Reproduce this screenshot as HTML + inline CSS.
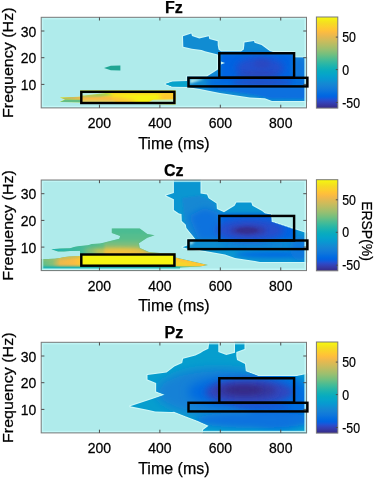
<!DOCTYPE html>
<html><head><meta charset="utf-8"><style>
html,body{margin:0;padding:0;background:#fff;width:375px;height:479px;overflow:hidden}
svg{display:block;will-change:transform;filter:blur(0.35px)}
text{font-family:"Liberation Sans", sans-serif;fill:#000;stroke:#000;stroke-width:0.25px}
</style></head><body>
<svg width="375" height="479" viewBox="0 0 375 479">
<defs><linearGradient id="parula" x1="0" y1="0" x2="0" y2="1"><stop offset="0.0000" stop-color="#f9fb0e"/><stop offset="0.0159" stop-color="#f6f313"/><stop offset="0.0317" stop-color="#f5eb18"/><stop offset="0.0476" stop-color="#f5e41d"/><stop offset="0.0635" stop-color="#f5de21"/><stop offset="0.0794" stop-color="#f7d826"/><stop offset="0.0952" stop-color="#fad32a"/><stop offset="0.1111" stop-color="#fcce2e"/><stop offset="0.1270" stop-color="#fec832"/><stop offset="0.1429" stop-color="#ffc337"/><stop offset="0.1587" stop-color="#fdbe3d"/><stop offset="0.1746" stop-color="#f8bb44"/><stop offset="0.1905" stop-color="#f1b94a"/><stop offset="0.2063" stop-color="#e9b94e"/><stop offset="0.2222" stop-color="#e1b952"/><stop offset="0.2381" stop-color="#d9ba56"/><stop offset="0.2540" stop-color="#d1bb59"/><stop offset="0.2698" stop-color="#c8bc5d"/><stop offset="0.2857" stop-color="#c0bc60"/><stop offset="0.3016" stop-color="#b7bd64"/><stop offset="0.3175" stop-color="#aebe67"/><stop offset="0.3333" stop-color="#a5be6b"/><stop offset="0.3492" stop-color="#9cbf6f"/><stop offset="0.3651" stop-color="#92bf73"/><stop offset="0.3810" stop-color="#87bf77"/><stop offset="0.3968" stop-color="#7cbf7b"/><stop offset="0.4127" stop-color="#71bf80"/><stop offset="0.4286" stop-color="#65be86"/><stop offset="0.4444" stop-color="#59bd8c"/><stop offset="0.4603" stop-color="#4dbc92"/><stop offset="0.4762" stop-color="#42bb98"/><stop offset="0.4921" stop-color="#38b99e"/><stop offset="0.5079" stop-color="#2eb7a4"/><stop offset="0.5238" stop-color="#25b5a9"/><stop offset="0.5397" stop-color="#1db3af"/><stop offset="0.5556" stop-color="#15b1b4"/><stop offset="0.5714" stop-color="#0faeb9"/><stop offset="0.5873" stop-color="#0aacbe"/><stop offset="0.6032" stop-color="#07a9c2"/><stop offset="0.6190" stop-color="#06a7c6"/><stop offset="0.6349" stop-color="#06a4ca"/><stop offset="0.6508" stop-color="#06a0cd"/><stop offset="0.6667" stop-color="#079ccf"/><stop offset="0.6825" stop-color="#0998d1"/><stop offset="0.6984" stop-color="#0c93d2"/><stop offset="0.7143" stop-color="#108ed2"/><stop offset="0.7302" stop-color="#1389d3"/><stop offset="0.7460" stop-color="#1485d4"/><stop offset="0.7619" stop-color="#1481d6"/><stop offset="0.7778" stop-color="#127dd8"/><stop offset="0.7937" stop-color="#1079da"/><stop offset="0.8095" stop-color="#0d75dc"/><stop offset="0.8254" stop-color="#0871de"/><stop offset="0.8413" stop-color="#046de0"/><stop offset="0.8571" stop-color="#0268e1"/><stop offset="0.8730" stop-color="#0363e1"/><stop offset="0.8889" stop-color="#0f5cdd"/><stop offset="0.9048" stop-color="#2053d4"/><stop offset="0.9206" stop-color="#2c4ac7"/><stop offset="0.9365" stop-color="#3243ba"/><stop offset="0.9524" stop-color="#353dad"/><stop offset="0.9683" stop-color="#3637a0"/><stop offset="0.9841" stop-color="#363093"/><stop offset="1.0000" stop-color="#352a87"/></linearGradient></defs>
<rect x="41.20" y="17.30" width="265.30" height="90.60" fill="#afebeb"/>
<g id="heat0"><defs><filter id="bl3" x="-50%" y="-50%" width="200%" height="200%"><feGaussianBlur stdDeviation="3"/></filter><filter id="bl2" x="-50%" y="-50%" width="200%" height="200%"><feGaussianBlur stdDeviation="2"/></filter><filter id="bl1" x="-50%" y="-50%" width="200%" height="200%"><feGaussianBlur stdDeviation="1"/></filter><filter id="bl5" x="-50%" y="-50%" width="200%" height="200%"><feGaussianBlur stdDeviation="5"/></filter><clipPath id="cp0"><polygon points="183.0,36.3 191.3,33.6 192.0,36.0 199.3,38.4 208.7,36.3 209.3,39.0 217.7,41.3 217.7,45.0 218.5,49.5 221.0,51.6 241.0,51.6 243.8,49.5 244.3,45.5 244.5,42.4 254.0,41.0 254.5,42.8 261.5,45.0 270.0,51.3 273.0,52.0 294.0,52.0 295.0,57.5 306.5,57.5 306.5,101.0 272.0,101.0 265.0,98.3 250.0,97.5 240.0,96.0 230.0,94.5 220.0,93.0 210.0,91.0 200.0,89.0 190.0,87.5 187.0,86.8 172.0,86.5 165.5,84.0 172.0,81.7 187.0,81.3 187.0,76.6 207.0,76.5 218.0,69.5 218.0,54.5 205.0,51.3 201.6,50.0 192.0,48.7 183.3,46.7" fill="#000" /></clipPath><clipPath id="cp0y"><polygon points="59.8,97.6 65.0,99.5 59.8,101.9 80.0,102.3 152.0,104.0 175.6,104.4 175.6,90.5 80.0,90.5 80.0,96.7" fill="#000" /></clipPath></defs>
<polygon points="104.0,68.0 110.8,65.8 120.4,65.6 120.4,70.4 110.8,70.2" fill="#1fa593" />
<polygon points="183.0,36.3 191.3,33.6 192.0,36.0 199.3,38.4 208.7,36.3 209.3,39.0 217.7,41.3 217.7,45.0 218.5,49.5 221.0,51.6 241.0,51.6 243.8,49.5 244.3,45.5 244.5,42.4 254.0,41.0 254.5,42.8 261.5,45.0 270.0,51.3 273.0,52.0 294.0,52.0 295.0,57.5 306.5,57.5 306.5,101.0 272.0,101.0 265.0,98.3 250.0,97.5 240.0,96.0 230.0,94.5 220.0,93.0 210.0,91.0 200.0,89.0 190.0,87.5 187.0,86.8 172.0,86.5 165.5,84.0 172.0,81.7 187.0,81.3 187.0,76.6 207.0,76.5 218.0,69.5 218.0,54.5 205.0,51.3 201.6,50.0 192.0,48.7 183.3,46.7" fill="none" stroke="#cdf7f7" stroke-width="2.2" stroke-linejoin="round"/>
<polygon points="183.0,36.3 191.3,33.6 192.0,36.0 199.3,38.4 208.7,36.3 209.3,39.0 217.7,41.3 217.7,45.0 218.5,49.5 221.0,51.6 241.0,51.6 243.8,49.5 244.3,45.5 244.5,42.4 254.0,41.0 254.5,42.8 261.5,45.0 270.0,51.3 273.0,52.0 294.0,52.0 295.0,57.5 306.5,57.5 306.5,101.0 272.0,101.0 265.0,98.3 250.0,97.5 240.0,96.0 230.0,94.5 220.0,93.0 210.0,91.0 200.0,89.0 190.0,87.5 187.0,86.8 172.0,86.5 165.5,84.0 172.0,81.7 187.0,81.3 187.0,76.6 207.0,76.5 218.0,69.5 218.0,54.5 205.0,51.3 201.6,50.0 192.0,48.7 183.3,46.7" fill="#118cd2" />
<g clip-path="url(#cp0)"><polygon points="160.0,80.0 187.0,80.0 187.0,88.0 160.0,88.0" fill="#06a3cb" /><rect x="220" y="53" width="74" height="30" fill="#0364e1" filter="url(#bl2)"/><ellipse cx="260.0" cy="68.0" rx="24.0" ry="11.0" fill="#274dcb" filter="url(#bl3)" opacity="0.90"/><ellipse cx="258.0" cy="75.5" rx="22.0" ry="3.0" fill="#353eaf" filter="url(#bl2)" opacity="0.80"/><ellipse cx="262.0" cy="64.0" rx="8.0" ry="5.0" fill="#3342b7" filter="url(#bl2)" opacity="0.50"/><ellipse cx="300.0" cy="68.0" rx="8.0" ry="12.0" fill="#0d75dc" filter="url(#bl3)"/><rect x="208" y="78" width="100" height="9" fill="#0267e1" filter="url(#bl3)"/><ellipse cx="262.0" cy="82.5" rx="30.0" ry="3.0" fill="#2f46bf" filter="url(#bl2)" opacity="0.80"/><polygon points="205.0,87.5 307.0,87.5 307.0,99.0 270.0,98.8 255.0,95.3 235.0,92.3 215.0,89.6" fill="#0770df" filter="url(#bl1)"/><polygon points="190.0,79.0 204.0,79.0 190.0,83.5" fill="#b4ecec" filter="url(#bl1)"/><polygon points="221.0,61.5 225.0,63.0 221.0,64.5" fill="#c8f2f2" /></g>
<polygon points="59.8,97.6 65.0,99.5 59.8,101.9 80.0,102.3 152.0,104.0 175.6,104.4 175.6,90.5 80.0,90.5 80.0,96.7" fill="#f6f313" />
<g clip-path="url(#cp0y)"><polygon points="80.0,95.5 100.0,95.8 118.0,97.0 135.0,100.5 135.0,103.0 80.0,103.0" fill="#fdbe3e" filter="url(#bl2)"/><polygon points="80.0,96.4 100.0,96.6 112.0,97.5 112.0,100.0 80.0,100.0" fill="#f6ba46" filter="url(#bl1)"/><polygon points="80.0,100.4 100.0,100.7 115.0,101.2 115.0,103.0 80.0,103.0" fill="#c8d890" filter="url(#bl1)" opacity="0.8"/><polygon points="80.0,95.3 106.0,93.2 114.0,94.5 100.0,96.3 80.0,96.4" fill="#6bbf83" filter="url(#bl1)" opacity="0.8"/><polygon points="112.0,92.0 176.0,92.0 176.0,94.2 112.0,94.2" fill="#fad12b" filter="url(#bl1)"/><polygon points="160.0,93.0 176.0,93.0 176.0,102.0 160.0,102.0" fill="#fec733" filter="url(#bl2)"/><polygon points="80.0,91.0 106.0,91.0 106.0,93.0 84.0,95.4 80.0,95.4" fill="#b8ecdf" /><polygon points="148.0,102.5 153.0,99.8 176.0,99.3 176.0,104.5 148.0,104.5" fill="#b8ecdf" /><polyline points="148,102.4 153,99.7 176,99.2" stroke="#f6dc23" stroke-width="0.8" fill="none" filter="url(#bl1)"/><linearGradient id="gsw" gradientUnits="userSpaceOnUse" x1="60" y1="0" x2="82" y2="0"><stop offset="0" stop-color="#a1be6c"/><stop offset="1" stop-color="#ecb94c"/></linearGradient><polygon points="59.8,97.6 65.0,99.5 82.0,99.8 82.0,96.5" fill="url(#gsw)" /><polygon points="59.8,101.9 65.0,99.5 82.0,99.8 82.0,103.5" fill="#64be86" /></g></g>
<rect x="42.60" y="18.70" width="262.50" height="87.80" fill="none" stroke="#c4f8f8" stroke-opacity="0.75" stroke-width="1.4"/>
<line x1="41.70" y1="106.70" x2="306.00" y2="106.70" stroke="#c4f8f8" stroke-opacity="0.9" stroke-width="1.1"/>
<line x1="305.30" y1="17.80" x2="305.30" y2="107.40" stroke="#c4f8f8" stroke-opacity="0.8" stroke-width="1.1"/>
<rect x="41.20" y="17.30" width="265.30" height="90.60" fill="none" stroke="#7a7a7a" stroke-width="1"/>
<line x1="99.44" y1="17.30" x2="99.44" y2="20.50" stroke="#4d4d4d" stroke-width="1"/>
<line x1="99.44" y1="107.90" x2="99.44" y2="104.70" stroke="#4d4d4d" stroke-width="1"/>
<text transform="translate(99.44,128.10) scale(1,1.08)" font-size="14" text-anchor="middle">200</text>
<line x1="159.88" y1="17.30" x2="159.88" y2="20.50" stroke="#4d4d4d" stroke-width="1"/>
<line x1="159.88" y1="107.90" x2="159.88" y2="104.70" stroke="#4d4d4d" stroke-width="1"/>
<text transform="translate(159.88,128.10) scale(1,1.08)" font-size="14" text-anchor="middle">400</text>
<line x1="220.32" y1="17.30" x2="220.32" y2="20.50" stroke="#4d4d4d" stroke-width="1"/>
<line x1="220.32" y1="107.90" x2="220.32" y2="104.70" stroke="#4d4d4d" stroke-width="1"/>
<text transform="translate(220.32,128.10) scale(1,1.08)" font-size="14" text-anchor="middle">600</text>
<line x1="280.76" y1="17.30" x2="280.76" y2="20.50" stroke="#4d4d4d" stroke-width="1"/>
<line x1="280.76" y1="107.90" x2="280.76" y2="104.70" stroke="#4d4d4d" stroke-width="1"/>
<text transform="translate(280.76,128.10) scale(1,1.08)" font-size="14" text-anchor="middle">800</text>
<line x1="41.20" y1="84.40" x2="44.40" y2="84.40" stroke="#4d4d4d" stroke-width="1"/>
<line x1="306.50" y1="84.40" x2="303.30" y2="84.40" stroke="#4d4d4d" stroke-width="1"/>
<text transform="translate(36.20,90.10) scale(1,1.08)" font-size="14" text-anchor="end">10</text>
<line x1="41.20" y1="57.70" x2="44.40" y2="57.70" stroke="#4d4d4d" stroke-width="1"/>
<line x1="306.50" y1="57.70" x2="303.30" y2="57.70" stroke="#4d4d4d" stroke-width="1"/>
<text transform="translate(36.20,63.40) scale(1,1.08)" font-size="14" text-anchor="end">20</text>
<line x1="41.20" y1="31.00" x2="44.40" y2="31.00" stroke="#4d4d4d" stroke-width="1"/>
<line x1="306.50" y1="31.00" x2="303.30" y2="31.00" stroke="#4d4d4d" stroke-width="1"/>
<text transform="translate(36.20,36.70) scale(1,1.08)" font-size="14" text-anchor="end">30</text>
<rect x="81.3" y="91.80" width="93.1" height="11.2" fill="none" stroke="#000" stroke-width="2.45"/>
<rect x="219.3" y="53.25" width="74.8" height="24.5" fill="none" stroke="#000" stroke-width="2.45"/>
<rect x="188.5" y="77.80" width="118.9" height="8.6" fill="none" stroke="#000" stroke-width="2.45"/>
<text x="173.85" y="13.20" font-size="16" font-weight="bold" text-anchor="middle">Fz</text>
<text x="173.85" y="148.60" font-size="16" text-anchor="middle">Time (ms)</text>
<text transform="translate(12.70,62.70) rotate(-90) scale(1.07,1)" font-size="15" text-anchor="middle">Frequency (Hz)</text>
<rect x="316.40" y="17.00" width="21.40" height="91.10" fill="url(#parula)" stroke="#7a7a7a" stroke-width="1"/>
<line x1="335.80" y1="37.10" x2="337.80" y2="37.10" stroke="#4d4d4d" stroke-width="1"/>
<text transform="translate(342.20,42.20) scale(0.88,1)" font-size="14" text-anchor="start">50</text>
<line x1="335.80" y1="69.60" x2="337.80" y2="69.60" stroke="#4d4d4d" stroke-width="1"/>
<text transform="translate(342.20,74.70) scale(0.88,1)" font-size="14" text-anchor="start">0</text>
<line x1="335.80" y1="102.50" x2="337.80" y2="102.50" stroke="#4d4d4d" stroke-width="1"/>
<text transform="translate(342.20,107.60) scale(0.88,1)" font-size="14" text-anchor="start">-50</text>
<rect x="41.20" y="180.00" width="265.30" height="90.60" fill="#afebeb"/>
<g id="heat1"><defs><clipPath id="cp1"><polygon points="173.9,180.5 200.5,180.5 200.5,193.5 207.0,194.5 208.5,198.3 216.5,203.6 216.8,209.0 224.0,212.3 234.6,205.7 236.4,202.5 251.3,202.5 252.4,205.7 262.0,211.0 265.0,213.6 271.0,214.5 271.6,221.7 294.0,229.0 306.5,233.0 306.5,262.0 260.0,262.0 255.0,261.0 235.0,258.0 225.0,254.4 206.6,251.2 193.0,248.8 187.4,248.6 182.6,247.2 187.4,245.5 187.4,239.4 196.0,239.4 191.4,234.0 186.5,228.0 185.8,224.5 181.8,221.0 181.5,214.0 179.0,213.5 173.9,210.0 173.9,199.3 166.0,195.5 173.9,193.0" fill="#000" /></clipPath><clipPath id="cp1w"><polygon points="51.2,249.3 60.0,248.6 70.0,248.2 75.0,246.8 80.0,246.0 88.0,245.2 92.0,244.0 100.0,243.6 104.3,242.4 119.3,238.7 120.2,235.9 111.8,233.0 111.8,228.4 139.8,228.4 147.3,234.0 154.7,235.3 147.3,237.7 138.9,243.3 139.8,248.0 149.0,252.0 160.0,253.0 175.6,253.3 175.6,257.4 208.0,264.9 200.0,266.6 180.0,267.5 180.0,270.5 41.0,270.5 41.0,259.3 55.0,258.8 60.0,258.0 65.0,256.9 70.0,256.4 80.0,256.0 80.0,250.8 70.0,251.0 64.0,251.4 58.0,251.5" fill="#000" /></clipPath></defs>
<polygon points="173.9,180.5 200.5,180.5 200.5,193.5 207.0,194.5 208.5,198.3 216.5,203.6 216.8,209.0 224.0,212.3 234.6,205.7 236.4,202.5 251.3,202.5 252.4,205.7 262.0,211.0 265.0,213.6 271.0,214.5 271.6,221.7 294.0,229.0 306.5,233.0 306.5,262.0 260.0,262.0 255.0,261.0 235.0,258.0 225.0,254.4 206.6,251.2 193.0,248.8 187.4,248.6 182.6,247.2 187.4,245.5 187.4,239.4 196.0,239.4 191.4,234.0 186.5,228.0 185.8,224.5 181.8,221.0 181.5,214.0 179.0,213.5 173.9,210.0 173.9,199.3 166.0,195.5 173.9,193.0" fill="none" stroke="#cdf7f7" stroke-width="2.2" stroke-linejoin="round"/>
<polygon points="173.9,180.5 200.5,180.5 200.5,193.5 207.0,194.5 208.5,198.3 216.5,203.6 216.8,209.0 224.0,212.3 234.6,205.7 236.4,202.5 251.3,202.5 252.4,205.7 262.0,211.0 265.0,213.6 271.0,214.5 271.6,221.7 294.0,229.0 306.5,233.0 306.5,262.0 260.0,262.0 255.0,261.0 235.0,258.0 225.0,254.4 206.6,251.2 193.0,248.8 187.4,248.6 182.6,247.2 187.4,245.5 187.4,239.4 196.0,239.4 191.4,234.0 186.5,228.0 185.8,224.5 181.8,221.0 181.5,214.0 179.0,213.5 173.9,210.0 173.9,199.3 166.0,195.5 173.9,193.0" fill="#0a96d1" />
<g clip-path="url(#cp1)"><polygon points="182.0,198.0 199.0,195.5 207.0,198.5 215.0,204.0 216.0,210.0 224.0,214.5 224.0,241.0 196.0,241.0 189.5,232.0 185.0,224.0" fill="#1388d3" filter="url(#bl1)"/><polygon points="189.0,216.0 204.0,208.0 219.0,213.0 222.0,241.0 199.0,241.0" fill="#0a72de" filter="url(#bl3)"/><rect x="220" y="214" width="75" height="28" fill="#0364e1" filter="url(#bl2)"/><rect x="190" y="240" width="117" height="9" fill="#118cd2" filter="url(#bl2)"/><ellipse cx="255.0" cy="245.0" rx="35.0" ry="2.5" fill="#0f77db" filter="url(#bl2)" opacity="0.60"/><ellipse cx="250.0" cy="230.0" rx="34.0" ry="11.0" fill="#274dcb" filter="url(#bl3)"/><ellipse cx="248.0" cy="230.5" rx="18.0" ry="5.0" fill="#363aa7" filter="url(#bl2)"/><ellipse cx="247.0" cy="230.5" rx="11.0" ry="3.0" fill="#362e8f" filter="url(#bl1)"/><ellipse cx="275.0" cy="254.5" rx="40.0" ry="3.5" fill="#056de0" filter="url(#bl2)"/><ellipse cx="300.0" cy="248.0" rx="10.0" ry="12.0" fill="#0f77db" filter="url(#bl3)"/><polygon points="271.0,214.0 296.0,214.0 296.0,230.0 271.6,221.7" fill="#afebeb" /><polygon points="190.0,241.5 195.0,241.5 190.0,245.0" fill="#c0eeee" filter="url(#bl1)"/></g>
<polygon points="51.2,249.3 60.0,248.6 70.0,248.2 75.0,246.8 80.0,246.0 88.0,245.2 92.0,244.0 100.0,243.6 104.3,242.4 119.3,238.7 120.2,235.9 111.8,233.0 111.8,228.4 139.8,228.4 147.3,234.0 154.7,235.3 147.3,237.7 138.9,243.3 139.8,248.0 149.0,252.0 160.0,253.0 175.6,253.3 175.6,257.4 208.0,264.9 200.0,266.6 180.0,267.5 180.0,270.5 41.0,270.5 41.0,259.3 55.0,258.8 60.0,258.0 65.0,256.9 70.0,256.4 80.0,256.0 80.0,250.8 70.0,251.0 64.0,251.4 58.0,251.5" fill="#55bd8e" />
<g clip-path="url(#cp1w)"><linearGradient id="gstreak" gradientUnits="userSpaceOnUse" x1="51" y1="0" x2="100" y2="0"><stop offset="0" stop-color="#1db3af"/><stop offset="1" stop-color="#5cbe8a"/></linearGradient><polygon points="51.2,249.3 60.0,248.6 70.0,248.2 75.0,246.8 80.0,246.0 88.0,245.2 92.0,244.0 100.0,243.6 115.0,243.0 115.0,256.0 80.0,256.0 80.0,251.0 64.0,251.4 58.0,251.5" fill="url(#gstreak)" /><linearGradient id="ghead" gradientUnits="userSpaceOnUse" x1="0" y1="228" x2="0" y2="254"><stop offset="0" stop-color="#46bb95"/><stop offset="0.45" stop-color="#5cbe8a"/><stop offset="0.75" stop-color="#95bf71"/><stop offset="1" stop-color="#e2b951"/></linearGradient><polygon points="104.3,242.4 119.3,238.7 120.2,235.9 111.8,233.0 111.8,228.4 139.8,228.4 147.3,234.0 154.7,235.3 147.3,237.7 138.9,243.3 139.8,248.0 149.0,252.0 160.0,253.0 176.0,253.0 176.0,256.0 104.3,256.0" fill="url(#ghead)" filter="url(#bl1)"/><ellipse cx="93.0" cy="251.0" rx="9.0" ry="2.2" fill="#a1be6c" filter="url(#bl2)"/><ellipse cx="120.0" cy="251.5" rx="26.0" ry="3.0" fill="#ffc436" filter="url(#bl2)" opacity="0.90"/><linearGradient id="gband" gradientUnits="userSpaceOnUse" x1="41" y1="0" x2="80" y2="0"><stop offset="0" stop-color="#5cbe8a"/><stop offset="0.3" stop-color="#88bf77"/><stop offset="0.5" stop-color="#ecb94c"/><stop offset="0.85" stop-color="#fabc42"/><stop offset="1" stop-color="#fec733"/></linearGradient><rect x="41" y="255" width="40" height="12" fill="url(#gband)"/><polygon points="41.0,259.3 55.0,258.8 60.0,258.0 65.0,256.9 70.0,256.4 80.0,256.0 80.0,257.5 41.0,261.0" fill="#a1be6c" filter="url(#bl1)" opacity="0.8"/><rect x="41" y="266.3" width="140" height="4.5" fill="#18b1b2" filter="url(#bl1)"/><rect x="82" y="255" width="92" height="10.5" fill="#f7f611"/><polygon points="175.6,257.4 208.0,264.9 200.0,266.6 176.0,266.0" fill="#ffc436" /><polygon points="176.0,261.0 200.0,265.0 176.0,266.0" fill="#f7d826" filter="url(#bl1)"/></g></g>
<rect x="42.60" y="181.40" width="262.50" height="87.80" fill="none" stroke="#c4f8f8" stroke-opacity="0.75" stroke-width="1.4"/>
<line x1="41.70" y1="269.40" x2="306.00" y2="269.40" stroke="#c4f8f8" stroke-opacity="0.9" stroke-width="1.1"/>
<line x1="305.30" y1="180.50" x2="305.30" y2="270.10" stroke="#c4f8f8" stroke-opacity="0.8" stroke-width="1.1"/>
<rect x="41.20" y="180.00" width="265.30" height="90.60" fill="none" stroke="#7a7a7a" stroke-width="1"/>
<line x1="99.44" y1="180.00" x2="99.44" y2="183.20" stroke="#4d4d4d" stroke-width="1"/>
<line x1="99.44" y1="270.60" x2="99.44" y2="267.40" stroke="#4d4d4d" stroke-width="1"/>
<text transform="translate(99.44,290.80) scale(1,1.08)" font-size="14" text-anchor="middle">200</text>
<line x1="159.88" y1="180.00" x2="159.88" y2="183.20" stroke="#4d4d4d" stroke-width="1"/>
<line x1="159.88" y1="270.60" x2="159.88" y2="267.40" stroke="#4d4d4d" stroke-width="1"/>
<text transform="translate(159.88,290.80) scale(1,1.08)" font-size="14" text-anchor="middle">400</text>
<line x1="220.32" y1="180.00" x2="220.32" y2="183.20" stroke="#4d4d4d" stroke-width="1"/>
<line x1="220.32" y1="270.60" x2="220.32" y2="267.40" stroke="#4d4d4d" stroke-width="1"/>
<text transform="translate(220.32,290.80) scale(1,1.08)" font-size="14" text-anchor="middle">600</text>
<line x1="280.76" y1="180.00" x2="280.76" y2="183.20" stroke="#4d4d4d" stroke-width="1"/>
<line x1="280.76" y1="270.60" x2="280.76" y2="267.40" stroke="#4d4d4d" stroke-width="1"/>
<text transform="translate(280.76,290.80) scale(1,1.08)" font-size="14" text-anchor="middle">800</text>
<line x1="41.20" y1="247.10" x2="44.40" y2="247.10" stroke="#4d4d4d" stroke-width="1"/>
<line x1="306.50" y1="247.10" x2="303.30" y2="247.10" stroke="#4d4d4d" stroke-width="1"/>
<text transform="translate(36.20,252.80) scale(1,1.08)" font-size="14" text-anchor="end">10</text>
<line x1="41.20" y1="220.40" x2="44.40" y2="220.40" stroke="#4d4d4d" stroke-width="1"/>
<line x1="306.50" y1="220.40" x2="303.30" y2="220.40" stroke="#4d4d4d" stroke-width="1"/>
<text transform="translate(36.20,226.10) scale(1,1.08)" font-size="14" text-anchor="end">20</text>
<line x1="41.20" y1="193.70" x2="44.40" y2="193.70" stroke="#4d4d4d" stroke-width="1"/>
<line x1="306.50" y1="193.70" x2="303.30" y2="193.70" stroke="#4d4d4d" stroke-width="1"/>
<text transform="translate(36.20,199.40) scale(1,1.08)" font-size="14" text-anchor="end">30</text>
<rect x="81.3" y="254.50" width="93.1" height="11.2" fill="none" stroke="#000" stroke-width="2.45"/>
<rect x="219.3" y="215.95" width="74.8" height="24.5" fill="none" stroke="#000" stroke-width="2.45"/>
<rect x="188.5" y="240.50" width="118.9" height="8.6" fill="none" stroke="#000" stroke-width="2.45"/>
<text x="173.85" y="175.90" font-size="16" font-weight="bold" text-anchor="middle">Cz</text>
<text x="173.85" y="311.30" font-size="16" text-anchor="middle">Time (ms)</text>
<text transform="translate(12.70,225.40) rotate(-90) scale(1.07,1)" font-size="15" text-anchor="middle">Frequency (Hz)</text>
<rect x="316.40" y="179.70" width="21.40" height="91.10" fill="url(#parula)" stroke="#7a7a7a" stroke-width="1"/>
<line x1="335.80" y1="199.80" x2="337.80" y2="199.80" stroke="#4d4d4d" stroke-width="1"/>
<text transform="translate(342.20,204.90) scale(0.88,1)" font-size="14" text-anchor="start">50</text>
<line x1="335.80" y1="232.30" x2="337.80" y2="232.30" stroke="#4d4d4d" stroke-width="1"/>
<text transform="translate(342.20,237.40) scale(0.88,1)" font-size="14" text-anchor="start">0</text>
<line x1="335.80" y1="265.20" x2="337.80" y2="265.20" stroke="#4d4d4d" stroke-width="1"/>
<text transform="translate(342.20,270.30) scale(0.88,1)" font-size="14" text-anchor="start">-50</text>
<text transform="translate(362.30,231.00) rotate(90) scale(0.93,1)" font-size="15" text-anchor="middle">ERSP(%)</text>
<rect x="41.20" y="342.30" width="265.30" height="90.60" fill="#afebeb"/>
<g id="heat2"><defs><clipPath id="cp2"><polygon points="130.2,406.3 164.9,394.7 156.2,391.6 156.2,382.9 147.5,379.5 147.5,375.1 166.6,372.5 174.4,366.5 182.2,363.0 183.1,358.7 195.4,355.6 200.6,353.0 203.2,351.3 208.4,348.7 209.3,342.4 218.3,342.4 218.3,352.0 226.3,355.0 235.0,352.7 235.0,342.4 244.5,342.4 244.5,349.0 236.3,352.0 236.3,356.0 237.0,360.0 245.0,364.0 245.7,371.3 255.0,374.7 258.0,376.0 297.0,376.0 306.5,374.0 306.5,432.8 203.0,432.8 203.0,430.0 208.7,425.7 200.7,422.3 198.0,421.0 186.0,416.5 174.0,411.7 172.0,412.0 155.3,411.5 147.5,409.8" fill="#000" /></clipPath></defs>
<polygon points="130.2,406.3 164.9,394.7 156.2,391.6 156.2,382.9 147.5,379.5 147.5,375.1 166.6,372.5 174.4,366.5 182.2,363.0 183.1,358.7 195.4,355.6 200.6,353.0 203.2,351.3 208.4,348.7 209.3,342.4 218.3,342.4 218.3,352.0 226.3,355.0 235.0,352.7 235.0,342.4 244.5,342.4 244.5,349.0 236.3,352.0 236.3,356.0 237.0,360.0 245.0,364.0 245.7,371.3 255.0,374.7 258.0,376.0 297.0,376.0 306.5,374.0 306.5,432.8 203.0,432.8 203.0,430.0 208.7,425.7 200.7,422.3 198.0,421.0 186.0,416.5 174.0,411.7 172.0,412.0 155.3,411.5 147.5,409.8" fill="none" stroke="#cdf7f7" stroke-width="2.2" stroke-linejoin="round"/>
<polygon points="130.2,406.3 164.9,394.7 156.2,391.6 156.2,382.9 147.5,379.5 147.5,375.1 166.6,372.5 174.4,366.5 182.2,363.0 183.1,358.7 195.4,355.6 200.6,353.0 203.2,351.3 208.4,348.7 209.3,342.4 218.3,342.4 218.3,352.0 226.3,355.0 235.0,352.7 235.0,342.4 244.5,342.4 244.5,349.0 236.3,352.0 236.3,356.0 237.0,360.0 245.0,364.0 245.7,371.3 255.0,374.7 258.0,376.0 297.0,376.0 306.5,374.0 306.5,432.8 203.0,432.8 203.0,430.0 208.7,425.7 200.7,422.3 198.0,421.0 186.0,416.5 174.0,411.7 172.0,412.0 155.3,411.5 147.5,409.8" fill="#069ece" />
<g clip-path="url(#cp2)"><ellipse cx="218.0" cy="392.0" rx="62.0" ry="24.0" fill="#1481d6" filter="url(#bl5)"/><ellipse cx="232.0" cy="392.0" rx="44.0" ry="15.0" fill="#036ae1" filter="url(#bl5)"/><ellipse cx="278.0" cy="400.0" rx="34.0" ry="28.0" fill="#056de0" filter="url(#bl5)"/><ellipse cx="249.0" cy="392.0" rx="44.0" ry="13.0" fill="#2f46bf" filter="url(#bl3)"/><ellipse cx="246.0" cy="390.5" rx="31.0" ry="7.5" fill="#36349b" filter="url(#bl3)"/><ellipse cx="244.0" cy="390.0" rx="18.0" ry="4.0" fill="#352a87" filter="url(#bl2)"/><ellipse cx="262.0" cy="407.0" rx="28.0" ry="3.0" fill="#2450cf" filter="url(#bl2)" opacity="0.70"/><ellipse cx="255.0" cy="420.0" rx="60.0" ry="8.0" fill="#0a72de" filter="url(#bl3)"/></g></g>
<rect x="42.60" y="343.70" width="262.50" height="87.80" fill="none" stroke="#c4f8f8" stroke-opacity="0.75" stroke-width="1.4"/>
<line x1="41.70" y1="431.70" x2="306.00" y2="431.70" stroke="#c4f8f8" stroke-opacity="0.9" stroke-width="1.1"/>
<line x1="305.30" y1="342.80" x2="305.30" y2="432.40" stroke="#c4f8f8" stroke-opacity="0.8" stroke-width="1.1"/>
<rect x="41.20" y="342.30" width="265.30" height="90.60" fill="none" stroke="#7a7a7a" stroke-width="1"/>
<line x1="99.44" y1="342.30" x2="99.44" y2="345.50" stroke="#4d4d4d" stroke-width="1"/>
<line x1="99.44" y1="432.90" x2="99.44" y2="429.70" stroke="#4d4d4d" stroke-width="1"/>
<text transform="translate(99.44,453.10) scale(1,1.08)" font-size="14" text-anchor="middle">200</text>
<line x1="159.88" y1="342.30" x2="159.88" y2="345.50" stroke="#4d4d4d" stroke-width="1"/>
<line x1="159.88" y1="432.90" x2="159.88" y2="429.70" stroke="#4d4d4d" stroke-width="1"/>
<text transform="translate(159.88,453.10) scale(1,1.08)" font-size="14" text-anchor="middle">400</text>
<line x1="220.32" y1="342.30" x2="220.32" y2="345.50" stroke="#4d4d4d" stroke-width="1"/>
<line x1="220.32" y1="432.90" x2="220.32" y2="429.70" stroke="#4d4d4d" stroke-width="1"/>
<text transform="translate(220.32,453.10) scale(1,1.08)" font-size="14" text-anchor="middle">600</text>
<line x1="280.76" y1="342.30" x2="280.76" y2="345.50" stroke="#4d4d4d" stroke-width="1"/>
<line x1="280.76" y1="432.90" x2="280.76" y2="429.70" stroke="#4d4d4d" stroke-width="1"/>
<text transform="translate(280.76,453.10) scale(1,1.08)" font-size="14" text-anchor="middle">800</text>
<line x1="41.20" y1="409.40" x2="44.40" y2="409.40" stroke="#4d4d4d" stroke-width="1"/>
<line x1="306.50" y1="409.40" x2="303.30" y2="409.40" stroke="#4d4d4d" stroke-width="1"/>
<text transform="translate(36.20,415.10) scale(1,1.08)" font-size="14" text-anchor="end">10</text>
<line x1="41.20" y1="382.70" x2="44.40" y2="382.70" stroke="#4d4d4d" stroke-width="1"/>
<line x1="306.50" y1="382.70" x2="303.30" y2="382.70" stroke="#4d4d4d" stroke-width="1"/>
<text transform="translate(36.20,388.40) scale(1,1.08)" font-size="14" text-anchor="end">20</text>
<line x1="41.20" y1="356.00" x2="44.40" y2="356.00" stroke="#4d4d4d" stroke-width="1"/>
<line x1="306.50" y1="356.00" x2="303.30" y2="356.00" stroke="#4d4d4d" stroke-width="1"/>
<text transform="translate(36.20,361.70) scale(1,1.08)" font-size="14" text-anchor="end">30</text>
<rect x="219.3" y="378.25" width="74.8" height="24.5" fill="none" stroke="#000" stroke-width="2.45"/>
<rect x="188.5" y="402.80" width="118.9" height="8.6" fill="none" stroke="#000" stroke-width="2.45"/>
<text x="173.85" y="338.20" font-size="16" font-weight="bold" text-anchor="middle">Pz</text>
<text x="173.85" y="473.60" font-size="16" text-anchor="middle">Time (ms)</text>
<text transform="translate(12.70,387.70) rotate(-90) scale(1.07,1)" font-size="15" text-anchor="middle">Frequency (Hz)</text>
<rect x="316.40" y="342.00" width="21.40" height="91.10" fill="url(#parula)" stroke="#7a7a7a" stroke-width="1"/>
<line x1="335.80" y1="362.10" x2="337.80" y2="362.10" stroke="#4d4d4d" stroke-width="1"/>
<text transform="translate(342.20,367.20) scale(0.88,1)" font-size="14" text-anchor="start">50</text>
<line x1="335.80" y1="394.60" x2="337.80" y2="394.60" stroke="#4d4d4d" stroke-width="1"/>
<text transform="translate(342.20,399.70) scale(0.88,1)" font-size="14" text-anchor="start">0</text>
<line x1="335.80" y1="427.50" x2="337.80" y2="427.50" stroke="#4d4d4d" stroke-width="1"/>
<text transform="translate(342.20,432.60) scale(0.88,1)" font-size="14" text-anchor="start">-50</text>
</svg></body></html>
